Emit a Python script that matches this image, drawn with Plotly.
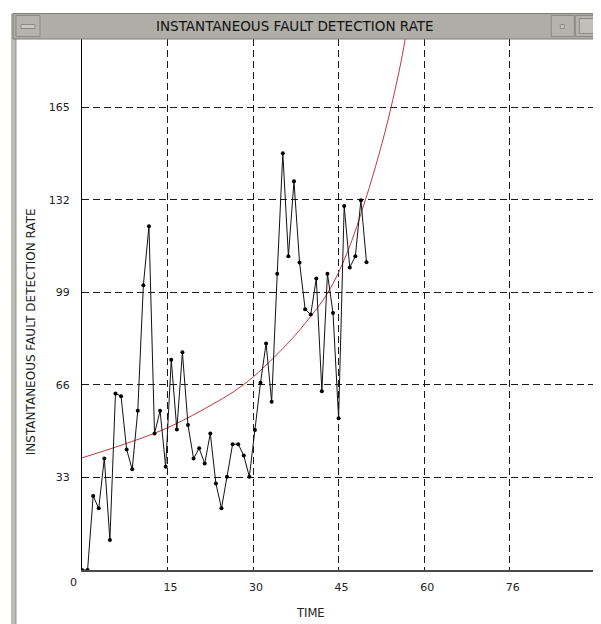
import plotly.graph_objects as go

# ---- data ----
time = list(range(52))
rate = [0, 0, 26.4, 22, 39.8, 10.7, 63, 62, 43, 35.9,
        56.8, 101.6, 122.6, 48.7, 56.8, 36.8, 75, 50.1, 77.7, 51.7,
        39.8, 43.4, 38, 48.7, 30.9, 22, 33.3, 44.9, 44.9, 40.8,
        33.3, 49.9, 66.8, 80.8, 60, 105.7, 148.7, 111.9, 138.7, 109.7,
        93, 91.1, 104, 63.8, 105.7, 91.7, 54.1, 129.8, 107.9, 111.9,
        131.9, 109.8]

model_time = [0, 7, 14.5, 21.5, 28.9, 36, 40, 44.1, 47.5, 50.8, 53.2, 55.4, 57.9, 58.5]
model_rate = [40, 44.5, 50, 57, 66, 79, 88, 99, 113, 132, 148, 165, 189, 200]

x_tick_vals = [0, 15.34, 30.67, 46.0, 61.34, 76.68]
x_tick_text = ["", "15", "30", "45", "60", "76"]
y_tick_vals = [0, 33, 66, 99, 132, 165]
y_tick_text = ["", "33", "66", "99", "132", "165"]

title_text = "INSTANTANEOUS FAULT DETECTION RATE"
x_title = "TIME"

# ---- geometry (reference pixels; page body adds an 8px offset) ----
OFF = 8
W, H = 601 - OFF, 624 - OFF
L, R_EDGE, T, B_EDGE = 82, 596.7, 38.5, 570
PW, PH = R_EDGE - L, B_EDGE - T


def px(x):
    return (x - L) / PW


def py(y):
    return (B_EDGE - y) / PH


FONT = "DejaVu Sans"

fig = go.Figure()
fig.add_trace(go.Scatter(x=model_time, y=model_rate, mode="lines",
                         line=dict(color="#c0393b", width=1, shape="spline"),
                         hoverinfo="skip", showlegend=False))
fig.add_trace(go.Scatter(x=time, y=rate, mode="lines+markers",
                         line=dict(color="#111111", width=1),
                         marker=dict(color="#000000", size=4),
                         showlegend=False))

grid = dict(showgrid=True, gridcolor="#1a1a1a", gridwidth=1, griddash="7px,4px")

fig.update_xaxes(range=[0, PW / 5.575], tickmode="array", tickvals=x_tick_vals,
                 ticktext=x_tick_text, showline=True, linecolor="#4a4a4a", linewidth=2,
                 zeroline=False, ticks="", ticklabelshift=3, ticklabelstandoff=6,
                 tickfont=dict(family=FONT, size=11, color="#222"), **grid)
fig.update_yaxes(range=[0, PH / 2.806], tickmode="array", tickvals=y_tick_vals,
                 ticktext=y_tick_text, showline=True, linecolor="#000000", linewidth=1,
                 zeroline=False, ticks="", ticklabelstandoff=9,
                 tickfont=dict(family=FONT, size=11, color="#222"), **grid)

shapes = []
# left window border
shapes.append(dict(type="rect", xref="paper", yref="paper",
                   x0=px(11), x1=px(16), y0=py(630), y1=py(13),
                   fillcolor="#bdbdb5", line=dict(width=0), layer="above"))
shapes.append(dict(type="line", xref="paper", yref="paper",
                   x0=px(16), x1=px(16), y0=py(630), y1=py(13),
                   line=dict(color="#8a8a84", width=1), layer="above"))
# right window border
shapes.append(dict(type="rect", xref="paper", yref="paper",
                   x0=px(597.5), x1=px(605), y0=py(630), y1=py(13),
                   fillcolor="#bdbdb5", line=dict(width=0), layer="above"))
# title bar
shapes.append(dict(type="rect", xref="paper", yref="paper",
                   x0=px(13), x1=px(605), y0=py(38.5), y1=py(13),
                   fillcolor="#aeaea6", line=dict(color="#7d7d77", width=1), layer="above"))
# left button
shapes.append(dict(type="rect", xref="paper", yref="paper",
                   x0=px(16), x1=px(40), y0=py(36), y1=py(15),
                   fillcolor="#b4b4ac", line=dict(color="#8a8a84", width=1), layer="above"))
shapes.append(dict(type="rect", xref="paper", yref="paper",
                   x0=px(21), x1=px(35), y0=py(28), y1=py(24),
                   fillcolor="#c8c8c0", line=dict(color="#8a8a84", width=1), layer="above"))
# right buttons
shapes.append(dict(type="rect", xref="paper", yref="paper",
                   x0=px(551), x1=px(574), y0=py(36), y1=py(15),
                   fillcolor="#b4b4ac", line=dict(color="#8a8a84", width=1), layer="above"))
shapes.append(dict(type="rect", xref="paper", yref="paper",
                   x0=px(560), x1=px(564), y0=py(28), y1=py(24),
                   fillcolor="#c8c8c0", line=dict(color="#8a8a84", width=1), layer="above"))
shapes.append(dict(type="rect", xref="paper", yref="paper",
                   x0=px(575), x1=px(598), y0=py(36), y1=py(15),
                   fillcolor="#b4b4ac", line=dict(color="#8a8a84", width=1), layer="above"))
shapes.append(dict(type="rect", xref="paper", yref="paper",
                   x0=px(579), x1=px(594), y0=py(33), y1=py(18),
                   fillcolor="#c0c0b8", line=dict(color="#8a8a84", width=1), layer="above"))

annotations = [
    dict(text=title_text, xref="paper", yref="paper", x=px(295), y=py(25.5),
         showarrow=False, xanchor="center", yanchor="middle",
         font=dict(family=FONT, size=13.5, color="#111")),
    dict(text=title_text, xref="paper", yref="paper", x=px(31), y=py(331),
         showarrow=False, xanchor="center", yanchor="middle", textangle=-90,
         font=dict(family=FONT, size=12, color="#222")),
    dict(text=x_title, xref="paper", yref="paper", x=px(310), y=py(613),
         showarrow=False, xanchor="center", yanchor="middle",
         font=dict(family=FONT, size=11.5, color="#222")),
    dict(text="0", xref="paper", yref="paper", x=px(74), y=py(583),
         showarrow=False, xanchor="center", yanchor="middle",
         font=dict(family=FONT, size=11, color="#222")),
]

fig.update_layout(width=W, height=H,
                  margin=dict(l=L - OFF, r=601 - R_EDGE, t=T - OFF, b=624 - B_EDGE, pad=0),
                  plot_bgcolor="white", paper_bgcolor="white",
                  shapes=shapes, annotations=annotations, showlegend=False)

fig.write_html("out.html")
